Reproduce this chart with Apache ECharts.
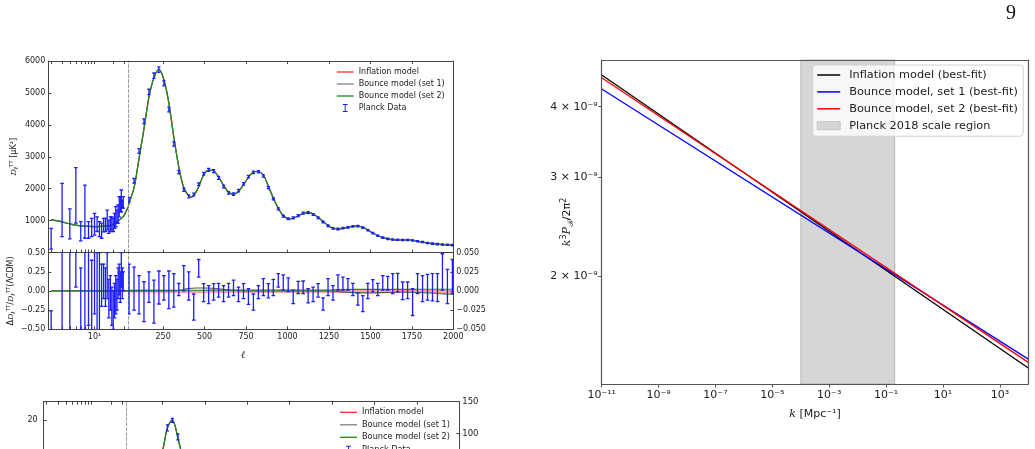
<!DOCTYPE html>
<html>
<head>
<meta charset="utf-8">
<script src="https://cdn.jsdelivr.net/npm/echarts@6.0.0/dist/echarts.min.js"></script>
<style>
  html, body { margin: 0; padding: 0; background: #fff; overflow: hidden; }
  #chart { width: 1035px; height: 640px; }
</style>
</head>
<body>
<div id="chart"></div>
<script>
// ---- top-left panel: TT spectrum, model curve (log part l<35, linear part l>40)
const modelLowEll = [2, 3, 4, 5, 6, 8, 10, 13, 18, 23, 29, 32, 35];
const modelLowD = [1030, 960, 900, 860, 835, 820, 815, 825, 845, 969, 1124, 1280, 1437];
const modelEll = [40, 76, 106, 135, 165, 195, 225, 255, 285, 314, 346, 374, 404, 418, 436, 466, 494, 527, 556, 583,
  613, 645, 673, 703, 734, 763, 793, 818, 854, 884, 915, 945, 974, 1015, 1055, 1095, 1126, 1165, 1216, 1256,
  1297, 1356, 1417, 1467, 1517, 1568, 1618, 1678, 1738, 1799, 1859, 1919, 2000];
const modelD = [1480, 2064, 2985, 3893, 4883, 5478, 5741, 5406, 4676, 3630, 2640, 2045, 1773, 1745, 1795, 2080, 2430, 2587, 2556, 2377,
  2117, 1888, 1826, 1907, 2117, 2346, 2515, 2540, 2430, 2086, 1700, 1387, 1156, 1052, 1124, 1231, 1250, 1178, 968, 811,
  739, 780, 833, 761, 604, 479, 417, 395, 395, 341, 291, 260, 235];

// Planck low-l bars (bottom / top of each bar)
const lowEll = [2, 3, 4, 5, 6, 7, 8, 9, 10, 11, 12, 13, 14, 15, 16, 17, 18, 19, 20, 21, 22, 23, 24, 25, 26, 27, 28, 29];
const lowLo = [110, 500, 430, 920, 370, 450, 450, 500, 550, 660, 500, 450, 650, 660, 710, 600, 660, 710, 660, 760, 810, 920, 920, 1120, 1280, 1280, 1400, 1390];
const lowHi = [760, 2170, 1370, 2660, 970, 2110, 970, 1070, 1230, 1120, 970, 920, 1070, 1070, 1330, 1020, 1120, 1120, 1070, 1230, 1440, 1330, 1490, 1750, 1750, 1960, 1640, 1750];

// Planck binned high-l points
const planckEll = [44.5, 74.5, 104.5, 134.5, 164.5, 194.5, 224.5, 254.5, 284.5, 314.5, 344.5, 374.5, 404.5, 434.5, 464.5, 494.5,
  524.5, 554.5, 584.5, 614.5, 644.5, 674.5, 704.5, 734.5, 764.5, 794.5, 824.5, 854.5, 884.5, 914.5, 944.5, 974.5,
  1004.5, 1034.5, 1064.5, 1094.5, 1124.5, 1154.5, 1184.5, 1214.5, 1244.5, 1274.5, 1304.5, 1334.5, 1364.5, 1394.5,
  1424.5, 1454.5, 1484.5, 1514.5, 1544.5, 1574.5, 1604.5, 1634.5, 1664.5, 1694.5, 1724.5, 1754.5, 1784.5, 1814.5,
  1844.5, 1874.5, 1904.5, 1934.5, 1964.5, 1994.5];
const planckD = [1650, 2250, 3180, 4110, 5030, 5540, 5730, 5300, 4480, 3400, 2520, 1970, 1760, 1820, 2140, 2470,
  2590, 2550, 2340, 2070, 1870, 1830, 1940, 2150, 2380, 2510, 2530, 2400, 2030, 1680, 1370, 1140,
  1060, 1090, 1160, 1235, 1250, 1195, 1090, 960, 840, 760, 740, 765, 790, 820,
  830, 780, 700, 610, 530, 470, 430, 410, 400, 395, 395, 380, 355, 330,
  300, 280, 265, 255, 245, 235];
const planckErr = [70, 70, 75, 80, 85, 85, 85, 80, 75, 65, 55, 50, 45, 45, 45, 45, 45, 45, 45, 40,
  40, 40, 40, 40, 40, 40, 35, 35, 35, 30, 30, 30, 30, 30, 30, 30, 30, 28, 28, 26,
  25, 25, 25, 25, 25, 25, 25, 22, 22, 22, 20, 20, 20, 20, 20, 20, 20, 20, 20, 20,
  20, 20, 20, 20, 20, 20];

// ---- residual panel
const resLowLo = [-0.9, -0.6, -0.7, 0.05, -0.6, -0.5, -0.45, -0.55, -0.3, -0.55, -0.6, -0.2, -0.1, -0.2, -0.1, -0.35, -0.25, -0.45, -0.5, -0.35, -0.3, -0.25, -0.1, -0.05, -0.15, 0.05, -0.1, 0.0];
const resLowHi = [-0.26, 1.2, 0.7, 1.5, 0.3, 1.0, 0.6, 0.4, 0.55, 0.5, 0.5, 0.35, 0.35, 0.3, 0.5, 0.15, 0.2, 0.05, 0.0, 0.1, 0.2, 0.15, 0.3, 0.35, 0.25, 0.5, 0.3, 0.25];
const resHi = [0.035, 0.031, 0.02, 0.012, 0.025, 0.014, 0.026, 0.02, 0.026, 0.0225, 0.01, 0.033, 0.025, -0.004, 0.041, 0.0095,
  0.007, 0.0095, 0.01, 0.007, 0.01, 0.014, 0.005, 0.0095, 0.003, -0.004, 0.007, 0.016, 0.0095, 0.015, 0.0225, 0.021,
  0.017, 0.001, 0.0126, 0.013, 0.003, 0.005, 0.0095, -0.009, 0.016, 0.007, 0.021, 0.018, 0.016, 0.01,
  -0.0026, -0.006, 0.01, 0.0147, 0.01, 0.02, 0.019, 0.0225, 0.023, 0.0117, 0.0117, 0.003, 0.0225, 0.02,
  0.0216, 0.0225, 0.0225, 0.0485, 0.028, 0.041];
const resLo = [-0.03, -0.025, -0.03, -0.04, -0.015, -0.042, -0.017, -0.012, -0.023, -0.021, -0.006, 0.0, -0.012, -0.038, 0.018, -0.014,
  -0.0165, -0.012, -0.008, -0.014, -0.008, -0.006, -0.014, -0.01, -0.0175, -0.025, -0.01, -0.006, -0.009, -0.006, 0.005, 0.001,
  -0.001, -0.0165, -0.0035, -0.0035, -0.0156, -0.014, -0.008, -0.025, -0.006, -0.012, 0.001, 0.001, 0.001, -0.006,
  -0.0186, -0.027, -0.01, -0.0013, -0.006, 0.001, 0.001, -0.0035, -0.0013, -0.0113, -0.01, -0.032, -0.0035, -0.014,
  -0.012, -0.013, -0.014, 0.001, -0.0165, -0.0035];
const resLowModelEll = [2, 35];
const resLowModel = [0, 0];
const resModelEll = [40, 200, 300, 350, 400, 450, 500, 550, 600, 650, 700, 800, 900, 1000, 1100, 1200, 1250, 1300, 1400, 1500, 1600, 1700, 1800, 1900, 2000];
const resInflation = [0, -0.0003, -0.0005, -0.0006, -0.0006, -0.0006, -0.0006, -0.0006, -0.0006, -0.0006, -0.0006, -0.0006, -0.0006, -0.0006, -0.0006, -0.0006, -0.0006, -0.0006, -0.0007, -0.0007, -0.0007, -0.0007, -0.0007, -0.0007, -0.0007];
const resSet1 = [0, 0, 0, 0.001, 0.003, 0.0038, 0.0039, 0.0035, 0.0025, 0.0012, 0.0003, 0, 0, 0, 0, 0, 0, -0.0008, -0.0022, -0.0026, -0.002, -0.0013, -0.002, -0.0033, -0.0043];
const resSet2 = [0.0005, 0.0008, 0.0009, 0.0009, 0.0009, 0.0009, 0.0009, 0.001, 0.001, 0.001, 0.001, 0.001, 0.001, 0.001, 0.001, 0.001, 0.0012, 0.0018, 0.002, 0.002, 0.0021, 0.0021, 0.0022, 0.0022, 0.0022];

// ---- lower-left panel (only its top strip is on the page)
const bottomLowEll = [2, 10, 35];
const bottomLowD = [0.1, 0.3, 1.5];
const bottomEll = [40, 150, 200, 230, 254, 280, 307, 322, 342, 357, 400, 500, 700, 1000, 1500, 2000];
const bottomD = [1.8, 8, 12, 14.5, 16.2, 19.0, 20.0, 19.5, 17.6, 16.2, 11, 5, 3, 2, 1, 0.5];
const bottomPlanckEll = [280, 309, 342];
const bottomPlanckD = [19.0, 20.0, 17.8];
const bottomPlanckErr = [0.4, 0.25, 0.4];

// ---- right panel: primordial power spectrum
const kVals = [1e-11, 1e4];
const inflationP = [4.554e-9, 1.372e-9];
const set1P = [4.300e-9, 1.423e-9];
const set2P = [4.504e-9, 1.404e-9];
const bandK = [1e-4, 0.2];

// tick labels
const ellTicksLow = [2, 3, 4, 5, 6, 7, 8, 9, 10, 20, 30];
const ellLabelsLow = [10];
const ellTicksHigh = [250, 500, 750, 1000, 1250, 1500, 1750, 2000];
const bottomLeftTicks = [20, 15, 10, 5, 0, -5];
const kTicks = [1e-11, 1e-9, 1e-7, 1e-5, 1e-3, 1e-1, 1e1, 1e3];
const pTicks = [2e-9, 3e-9, 4e-9];

const BLUE = '#1c1cff';
const RED = '#ff3030';
const GRAY = '#808080';
const GREEN = '#178a17';
const AX = '#444';
const FONT = 'DejaVu Sans';

const SUP = { '-': '⁻', '0': '⁰', '1': '¹', '2': '²', '3': '³', '4': '⁴', '5': '⁵', '6': '⁶', '7': '⁷', '8': '⁸', '9': '⁹' };
const sup = (n) => String(n).split('').map((c) => SUP[c]).join('');
const pow10 = (v) => '10' + sup(Math.round(Math.log10(v)));
const sci = (v) => {
  const e = Math.floor(Math.log10(v) + 1e-9);
  return Math.round(v / Math.pow(10, e)) + ' × 10' + sup(e);
};
const fixed = (d) => (v) => (v < -1e-12 ? '−' : '') + Math.abs(v).toFixed(d);
const plain = (v) => (v < 0 ? '−' : '') + String(Math.abs(v));
const zip = (a, b) => a.map((v, i) => [v, b[i]]);

const IBEAM = 'path://M0,0H6V1.2H3.6V8.8H6V10H0V8.8H2.4V1.2H0Z';
const LINE_SMALL = 'path://M0,0H17V1.3H0Z';
const LINE_BIG = 'path://M0,0H23V1.5H0Z';

function axisLine(color, type, width) {
  return { show: true, onZero: false, lineStyle: { color: color || AX, width: width || 1, type: type || 'solid' } };
}
const noTick = { show: false };
const noLabel = { show: false };
const noSplit = { show: false };
const smallLabel = { fontSize: 8, color: '#222', fontFamily: FONT };

function inTicks(values) {
  return { show: true, inside: true, length: 3, customValues: values, lineStyle: { color: AX } };
}

function curve(name, color, xs, ys, xi, yi, extra) {
  return Object.assign({
    name, type: 'line', xAxisIndex: xi, yAxisIndex: yi, data: zip(xs, ys),
    symbol: 'none', showSymbol: false, smooth: 0.3, clip: true, z: 3,
    lineStyle: { color, width: 1.2 }, itemStyle: { color }
  }, extra || {});
}

function planck(rows, xi, yi, cap, width) {
  return {
    name: 'Planck Data', type: 'custom', xAxisIndex: xi, yAxisIndex: yi, data: rows,
    encode: { x: 0, y: [1, 2] }, clip: true, z: 5, itemStyle: { color: BLUE },
    renderItem: (params, api) => {
      const a = api.coord([api.value(0), api.value(1)]);
      const b = api.coord([api.value(0), api.value(2)]);
      const st = { stroke: BLUE, lineWidth: width };
      return {
        type: 'group', children: [
          { type: 'line', shape: { x1: a[0], y1: a[1], x2: b[0], y2: b[1] }, style: st },
          { type: 'line', shape: { x1: a[0] - cap, y1: a[1], x2: a[0] + cap, y2: a[1] }, style: st },
          { type: 'line', shape: { x1: b[0] - cap, y1: b[1], x2: b[0] + cap, y2: b[1] }, style: st }
        ]
      };
    }
  };
}

const richSmall = {
  i: { fontStyle: 'italic', fontSize: 8, fontFamily: 'DejaVu Serif', lineHeight: 11 },
  n: { fontSize: 8, fontFamily: FONT, lineHeight: 11 },
  sp: { fontSize: 5.5, fontFamily: FONT, verticalAlign: 'top', lineHeight: 11 },
  sb: { fontSize: 5.5, fontFamily: FONT, verticalAlign: 'bottom', lineHeight: 11 }
};
const richBig = {
  i: { fontStyle: 'italic', fontSize: 11, fontFamily: 'DejaVu Serif', lineHeight: 15 },
  n: { fontSize: 11, fontFamily: FONT, lineHeight: 15 },
  sp: { fontSize: 8, fontFamily: FONT, verticalAlign: 'top', lineHeight: 15 },
  sb: { fontSize: 8, fontFamily: 'DejaVu Serif', fontStyle: 'italic', verticalAlign: 'bottom', lineHeight: 15 }
};

const leftLegendData = [
  { name: 'Inflation model', icon: LINE_SMALL },
  { name: 'Bounce model (set 1)', icon: LINE_SMALL },
  { name: 'Bounce model (set 2)', icon: LINE_SMALL },
  { name: 'Planck Data', icon: IBEAM }
];

const chart = echarts.init(document.getElementById('chart'), null, { renderer: 'canvas' });

const option = {
  animation: false,
  backgroundColor: '#fff',
  title: [
    { text: '9', left: 1006, top: 4, padding: 0, textStyle: { fontFamily: 'Liberation Serif', fontSize: 20, fontWeight: 'normal', color: '#111' } },
    { text: 'ℓ', left: 241, top: 350, padding: 0, textStyle: { fontFamily: 'DejaVu Serif', fontStyle: 'italic', fontSize: 10, fontWeight: 'normal', color: '#222' } }
  ],
  legend: [
    {
      orient: 'vertical', left: 336.7, top: 68, padding: 0, itemWidth: 17, itemHeight: 8, itemGap: 4,
      textStyle: { fontSize: 8, color: '#222', fontFamily: FONT },
      data: leftLegendData
    },
    {
      orient: 'vertical', left: 340, top: 408.3, padding: 0, itemWidth: 17, itemHeight: 8, itemGap: 4.5,
      textStyle: { fontSize: 8.2, color: '#222', fontFamily: FONT },
      data: leftLegendData
    },
    {
      orient: 'vertical', left: 812.7, top: 65, padding: [4.5, 5.4, 5, 4], itemWidth: 23, itemHeight: 8, itemGap: 5.9,
      backgroundColor: 'rgba(255,255,255,0.8)', borderColor: '#d0d0d0', borderWidth: 1, borderRadius: 3,
      textStyle: { fontSize: 11.3, color: '#222', fontFamily: FONT, padding: [0, 0, 0, 4] },
      data: [
        { name: 'Inflation model (best-fit)', icon: LINE_BIG },
        { name: 'Bounce model, set 1 (best-fit)', icon: LINE_BIG },
        { name: 'Bounce model, set 2 (best-fit)', icon: LINE_BIG },
        { name: 'Planck 2018 scale region', icon: 'rect', itemStyle: { color: '#d6d6d6', borderColor: '#c4c4c4', borderWidth: 1 } }
      ]
    }
  ],
  grid: [
    { left: 48.3, top: 61, width: 80, height: 191.6 },
    { left: 128.3, top: 61, width: 325, height: 191.6 },
    { left: 48.3, top: 252.6, width: 80, height: 76.7 },
    { left: 128.3, top: 252.6, width: 325, height: 76.7 },
    { left: 43.7, top: 401.7, width: 83, height: 224 },
    { left: 126.7, top: 401.7, width: 332.6, height: 224 },
    { left: 601.7, top: 60, width: 426.6, height: 324 }
  ],
  xAxis: [
    { type: 'log', gridIndex: 0, min: 1.8, max: 35, position: 'bottom', axisLine: axisLine(), axisTick: inTicks(ellTicksLow), axisLabel: noLabel, splitLine: noSplit },
    { type: 'log', gridIndex: 0, min: 1.8, max: 35, position: 'top', axisLine: axisLine(), axisTick: inTicks(ellTicksLow), axisLabel: noLabel, splitLine: noSplit },
    { type: 'value', gridIndex: 1, min: 40, max: 2000, position: 'bottom', axisLine: axisLine(), axisTick: inTicks(ellTicksHigh), axisLabel: noLabel, splitLine: noSplit },
    { type: 'value', gridIndex: 1, min: 40, max: 2000, position: 'top', axisLine: axisLine(), axisTick: inTicks(ellTicksHigh), axisLabel: noLabel, splitLine: noSplit },
    {
      type: 'log', gridIndex: 2, min: 1.8, max: 35, position: 'bottom', axisLine: axisLine(), axisTick: inTicks(ellTicksLow),
      axisLabel: Object.assign({ customValues: ellLabelsLow, formatter: pow10, margin: 4 }, smallLabel), splitLine: noSplit
    },
    {
      type: 'value', gridIndex: 3, min: 40, max: 2000, position: 'bottom', axisLine: axisLine(), axisTick: inTicks(ellTicksHigh),
      axisLabel: Object.assign({ customValues: ellTicksHigh, formatter: plain, margin: 4 }, smallLabel), splitLine: noSplit
    },
    { type: 'log', gridIndex: 4, min: 1.8, max: 35, position: 'top', axisLine: axisLine(), axisTick: inTicks(ellTicksLow), axisLabel: noLabel, splitLine: noSplit },
    { type: 'value', gridIndex: 5, min: 40, max: 2000, position: 'top', axisLine: axisLine(), axisTick: inTicks(ellTicksHigh), axisLabel: noLabel, splitLine: noSplit },
    {
      type: 'log', gridIndex: 6, min: 1e-11, max: 1e4, position: 'bottom', z: 6, axisLine: axisLine('#555', 'solid', 1.2),
      axisTick: { show: true, length: 3.5, customValues: kTicks, lineStyle: { color: '#555' } },
      axisLabel: { customValues: kTicks, formatter: pow10, fontSize: 11, color: '#222', fontFamily: FONT, margin: 6 },
      splitLine: noSplit, name: '{i|k} [Mpc⁻¹]', nameLocation: 'middle', nameGap: 23,
      nameTextStyle: { fontSize: 11, color: '#222', fontFamily: FONT, rich: richBig }
    },
    { type: 'log', gridIndex: 6, min: 1e-11, max: 1e4, position: 'top', z: 6, axisLine: axisLine('#555', 'solid', 1.2), axisTick: noTick, axisLabel: noLabel, splitLine: noSplit }
  ],
  yAxis: [
    {
      type: 'value', gridIndex: 0, min: 0, max: 6000, interval: 1000, position: 'left', axisLine: axisLine(),
      axisTick: { show: true, inside: true, length: 3, lineStyle: { color: AX } },
      axisLabel: Object.assign({ showMinLabel: false, formatter: plain, margin: 3 }, smallLabel), splitLine: noSplit,
      name: '{i|D}{sb|ℓ}{sp|TT}{n| [μK²]}', nameLocation: 'middle', nameGap: 29,
      nameTextStyle: { fontSize: 8, color: '#222', rich: richSmall }
    },
    { type: 'value', gridIndex: 0, min: 0, max: 6000, position: 'right', axisLine: axisLine('#9a9a9a', [3, 2]), axisTick: noTick, axisLabel: noLabel, splitLine: noSplit },
    { type: 'value', gridIndex: 1, min: 0, max: 6000, position: 'right', axisLine: axisLine(), axisTick: noTick, axisLabel: noLabel, splitLine: noSplit },
    {
      type: 'value', gridIndex: 2, min: -0.5, max: 0.5, interval: 0.25, position: 'left', axisLine: axisLine(),
      axisTick: { show: true, inside: true, length: 3, lineStyle: { color: AX } },
      axisLabel: Object.assign({ formatter: fixed(2), margin: 3 }, smallLabel), splitLine: noSplit,
      name: '{n|Δ}{i|D}{sb|ℓ}{sp|TT}{n|/}{i|D}{sb|ℓ}{sp|TT}{n|(ΛCDM)}', nameLocation: 'middle', nameGap: 29,
      nameTextStyle: { fontSize: 8, color: '#222', rich: richSmall }
    },
    { type: 'value', gridIndex: 2, min: -0.5, max: 0.5, position: 'right', axisLine: axisLine('#9a9a9a', [3, 2]), axisTick: noTick, axisLabel: noLabel, splitLine: noSplit },
    {
      type: 'value', gridIndex: 3, min: -0.05, max: 0.05, interval: 0.025, position: 'right', axisLine: axisLine(),
      axisTick: { show: true, inside: true, length: 3, lineStyle: { color: AX } },
      axisLabel: Object.assign({ formatter: fixed(3), margin: 3 }, smallLabel), splitLine: noSplit
    },
    {
      type: 'value', gridIndex: 4, min: -7.5, max: 22.5, position: 'left', axisLine: axisLine(),
      axisTick: inTicks(bottomLeftTicks),
      axisLabel: Object.assign({ customValues: bottomLeftTicks, formatter: plain, margin: 6 }, smallLabel), splitLine: noSplit
    },
    { type: 'value', gridIndex: 4, min: -7.5, max: 22.5, position: 'right', axisLine: axisLine('#9a9a9a', [3, 2]), axisTick: noTick, axisLabel: noLabel, splitLine: noSplit },
    { type: 'value', gridIndex: 5, min: -7.5, max: 22.5, position: 'left', show: false },
    {
      type: 'value', gridIndex: 5, min: -200, max: 150, interval: 50, position: 'right', axisLine: axisLine(),
      axisTick: { show: true, inside: true, length: 3, lineStyle: { color: AX } },
      axisLabel: Object.assign({ formatter: plain, margin: 3 }, smallLabel, { fontSize: 8.5 }), splitLine: noSplit
    },
    {
      type: 'log', gridIndex: 6, min: 1.285e-9, max: 4.843e-9, position: 'left', z: 6, axisLine: axisLine('#555', 'solid', 1.2),
      axisTick: { show: true, length: 3.5, customValues: pTicks, lineStyle: { color: '#555' } },
      axisLabel: { customValues: pTicks, formatter: sci, fontSize: 11, color: '#222', fontFamily: FONT, margin: 4 },
      splitLine: noSplit
    },
    { type: 'log', gridIndex: 6, min: 1.285e-9, max: 4.843e-9, position: 'right', z: 6, axisLine: axisLine('#555', 'solid', 1.2), axisTick: noTick, axisLabel: noLabel, splitLine: noSplit },
    // carries only the y-axis title of the right panel (kept clear of the tick labels)
    {
      type: 'log', gridIndex: 6, min: 1.285e-9, max: 4.843e-9, position: 'left', axisLine: { show: false }, axisTick: noTick, axisLabel: noLabel, splitLine: noSplit,
      name: '{i|k}{sp|3}{i|P}{sb|ℛ}{n|/2π}{sp|2}', nameLocation: 'middle', nameGap: 27,
      nameTextStyle: { fontSize: 11, color: '#222', rich: richBig }
    }
  ],
  series: [
    // top panel
    curve('Inflation model', RED, modelLowEll, modelLowD, 0, 0),
    curve('Bounce model (set 1)', GRAY, modelLowEll, modelLowD, 0, 0),
    curve('Bounce model (set 2)', GREEN, modelLowEll, modelLowD, 0, 0),
    curve('Inflation model', RED, modelEll, modelD, 2, 2),
    curve('Bounce model (set 1)', GRAY, modelEll, modelD, 2, 2),
    curve('Bounce model (set 2)', GREEN, modelEll, modelD, 2, 2),
    planck(lowEll.map((l, i) => [l, lowLo[i], lowHi[i]]), 0, 0, 1.8, 1.3),
    planck(planckEll.map((l, i) => [l, planckD[i] - planckErr[i], planckD[i] + planckErr[i]]), 2, 2, 1.6, 1.3),

    // residual panel
    curve('Inflation model', RED, resLowModelEll, resLowModel, 4, 3, { smooth: false }),
    curve('Bounce model (set 1)', GRAY, resLowModelEll, resLowModel, 4, 3, { smooth: false }),
    curve('Bounce model (set 2)', GREEN, resLowModelEll, resLowModel, 4, 3, { smooth: false }),
    curve('Inflation model', RED, resModelEll, resInflation, 5, 5, { lineStyle: { color: RED, width: 3, opacity: 0.45 } }),
    curve('Bounce model (set 1)', GRAY, resModelEll, resSet1, 5, 5, { lineStyle: { color: '#555', width: 1.1 } }),
    curve('Bounce model (set 2)', GREEN, resModelEll, resSet2, 5, 5),
    planck(lowEll.map((l, i) => [l, resLowLo[i], resLowHi[i]]), 4, 3, 1.8, 1.3),
    planck(planckEll.map((l, i) => [l, resLo[i], resHi[i]]), 5, 5, 1.8, 1.3),

    // lower-left panel
    curve('Inflation model', RED, bottomLowEll, bottomLowD, 6, 6),
    curve('Bounce model (set 1)', GRAY, bottomLowEll, bottomLowD, 6, 6),
    curve('Bounce model (set 2)', GREEN, bottomLowEll, bottomLowD, 6, 6),
    curve('Inflation model', RED, bottomEll, bottomD, 7, 8),
    curve('Bounce model (set 1)', GRAY, bottomEll, bottomD, 7, 8),
    curve('Bounce model (set 2)', GREEN, bottomEll, bottomD, 7, 8),
    planck(bottomPlanckEll.map((l, i) => [l, bottomPlanckD[i] - bottomPlanckErr[i], bottomPlanckD[i] + bottomPlanckErr[i]]), 7, 8, 1.6, 1.3),

    // right panel
    {
      name: 'Planck 2018 scale region', type: 'line', xAxisIndex: 8, yAxisIndex: 10, data: [], z: 1,
      itemStyle: { color: '#d6d6d6' }, lineStyle: { color: '#d6d6d6' },
      markArea: {
        silent: true,
        itemStyle: { color: 'rgba(128,128,128,0.32)', borderColor: 'rgba(128,128,128,0.45)', borderWidth: 1 },
        data: [[{ xAxis: bandK[0] }, { xAxis: bandK[1] }]]
      }
    },
    curve('Inflation model (best-fit)', '#000000', kVals, inflationP, 8, 10, { smooth: false, lineStyle: { color: '#000', width: 1.3 } }),
    curve('Bounce model, set 1 (best-fit)', '#0000ff', kVals, set1P, 8, 10, { smooth: false, lineStyle: { color: '#0000ff', width: 1.3 } }),
    curve('Bounce model, set 2 (best-fit)', '#ff0000', kVals, set2P, 8, 10, { smooth: false, lineStyle: { color: '#ff0000', width: 1.3 } })
  ]
};

chart.setOption(option);
</script>
</body>
</html>
